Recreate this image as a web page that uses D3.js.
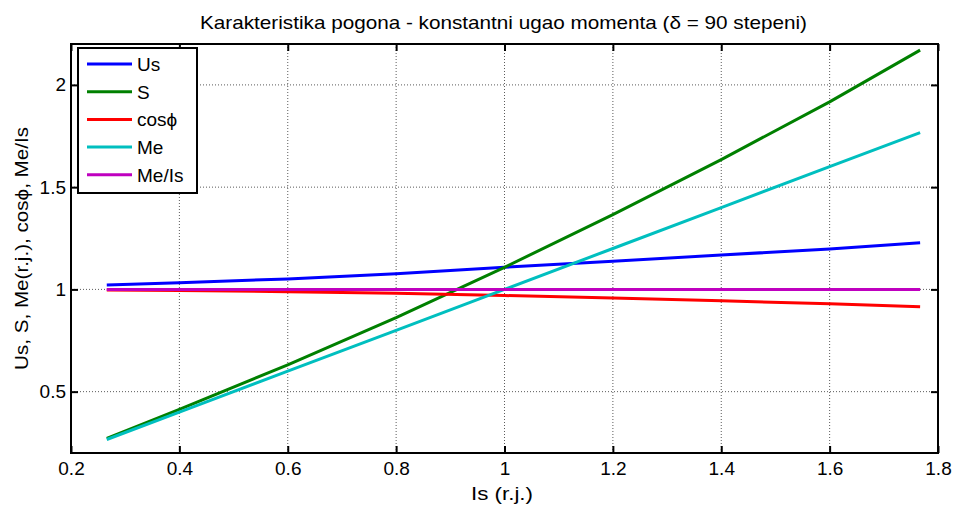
<!DOCTYPE html>
<html>
<head>
<meta charset="utf-8">
<script src="https://cdn.jsdelivr.net/npm/d3@7"></script>
<style>
  html, body { margin: 0; padding: 0; background: #fff; }
  svg { display: block; font-family: "Liberation Sans", Arial, Helvetica, sans-serif; }
</style>
</head>
<body>
<svg id="chart" width="955" height="506"></svg>
<script>
// Stator current in relative units
const currentIs = [0.266, 0.4, 0.6, 0.8, 1.0, 1.2, 1.4, 1.6, 1.767];
// Drive characteristics at each current value
const voltageUs = [1.022, 1.033, 1.051, 1.077, 1.108, 1.138, 1.168, 1.198, 1.228];
const apparentS = [0.272, 0.413, 0.631, 0.862, 1.108, 1.366, 1.635, 1.917, 2.170];
const powerFactor = [0.997, 0.995, 0.989, 0.981, 0.970, 0.958, 0.944, 0.930, 0.915];
const torqueMe = [0.266, 0.4, 0.6, 0.8, 1.0, 1.2, 1.4, 1.6, 1.767];
const torquePerAmp = [1, 1, 1, 1, 1, 1, 1, 1, 1];

const seriesNames = ["Us", "S", "cos\u03D5", "Me", "Me/Is"];
const seriesColors = ["#0000ff", "#008000", "#ff0000", "#00bfbf", "#bf00bf"];
const seriesValues = [voltageUs, apparentS, powerFactor, torqueMe, torquePerAmp];

const xTicks = [0.2, 0.4, 0.6, 0.8, 1, 1.2, 1.4, 1.6, 1.8];
const yTicks = [0.5, 1, 1.5, 2];

const titleText = "Karakteristika pogona - konstantni ugao momenta (\u03B4 = 90 stepeni)";
const xLabel = "Is (r.j.)";
const yLabel = "Us, S, Me(r.j.), cos\u03D5, Me/Is";

const svg = d3.select("#chart");
const plotLeft = 71, plotRight = 938, plotTop = 44, plotBottom = 453;

const x = d3.scaleLinear().domain([0.2, 1.8]).range([plotLeft, plotRight]);
const y = d3.scaleLinear().domain([0.2, 2.2]).range([plotBottom, plotTop]);

const fmt = d => String(+d.toFixed(1));

// Dotted grid
const grid = svg.append("g");
grid.selectAll("line.gx").data(xTicks.slice(1, -1)).join("line")
  .attr("x1", d => x(d)).attr("x2", d => x(d))
  .attr("y1", plotTop).attr("y2", plotBottom)
  .attr("stroke", "#333").attr("stroke-width", 1).attr("stroke-dasharray", "1,2").attr("opacity", 0.8);
grid.selectAll("line.gy").data(yTicks).join("line")
  .attr("y1", d => y(d)).attr("y2", d => y(d))
  .attr("x1", plotLeft).attr("x2", plotRight)
  .attr("stroke", "#333").attr("stroke-width", 1).attr("stroke-dasharray", "1,2").attr("opacity", 0.8);

// Data lines
const line = d3.line()
  .x((d, i) => x(currentIs[i]))
  .y(d => y(d));
svg.append("g").selectAll("path").data(seriesValues).join("path")
  .attr("d", d => line(d))
  .attr("fill", "none")
  .attr("stroke", (d, i) => seriesColors[i])
  .attr("stroke-width", 3)
  .attr("stroke-linejoin", "round");

// Axes with inward ticks on all four sides
const tickLen = 7;
const axFont = 19;
const bottomAxis = svg.append("g").attr("transform", `translate(0,${plotBottom})`)
  .call(d3.axisBottom(x).tickValues(xTicks).tickFormat(fmt).tickSizeInner(-tickLen).tickSizeOuter(0).tickPadding(9));
const topAxis = svg.append("g").attr("transform", `translate(0,${plotTop})`)
  .call(d3.axisTop(x).tickValues(xTicks).tickFormat("").tickSizeInner(-tickLen).tickSizeOuter(0));
const leftAxis = svg.append("g").attr("transform", `translate(${plotLeft},0)`)
  .call(d3.axisLeft(y).tickValues(yTicks).tickFormat(fmt).tickSizeInner(-tickLen).tickSizeOuter(0).tickPadding(5));
const rightAxis = svg.append("g").attr("transform", `translate(${plotRight},0)`)
  .call(d3.axisRight(y).tickValues(yTicks).tickFormat("").tickSizeInner(-tickLen).tickSizeOuter(0));

[bottomAxis, topAxis, leftAxis, rightAxis].forEach(g => {
  g.select(".domain").remove();
  g.selectAll(".tick line").attr("stroke", "#000").attr("stroke-width", 2);
  g.selectAll("text").attr("font-size", axFont).attr("fill", "#000").attr("font-family", null);
});

// Axes frame
svg.append("rect")
  .attr("x", plotLeft).attr("y", plotTop)
  .attr("width", plotRight - plotLeft).attr("height", plotBottom - plotTop)
  .attr("fill", "none").attr("stroke", "#000").attr("stroke-width", 2);

// Title and axis labels (slightly widened lettering)
svg.append("text").attr("x", 503.5).attr("y", 29)
  .attr("text-anchor", "middle").attr("font-size", 19)
  .attr("textLength", 607).attr("lengthAdjust", "spacingAndGlyphs").text(titleText);
svg.append("text").attr("x", 502).attr("y", 500)
  .attr("text-anchor", "middle").attr("font-size", 19)
  .attr("textLength", 62).attr("lengthAdjust", "spacingAndGlyphs").text(xLabel);
svg.append("text")
  .attr("transform", `translate(28,${(plotTop + plotBottom) / 2}) rotate(-90)`)
  .attr("text-anchor", "middle").attr("font-size", 19)
  .attr("textLength", 243).attr("lengthAdjust", "spacingAndGlyphs").text(yLabel);

// Legend
const lg = svg.append("g");
lg.append("rect").attr("x", 78).attr("y", 48).attr("width", 119).attr("height", 145)
  .attr("fill", "#fff").attr("stroke", "#000").attr("stroke-width", 2);
const rows = lg.selectAll("g.row").data(seriesNames).join("g")
  .attr("transform", (d, i) => `translate(0,${64 + i * 27.7})`);
rows.append("line").attr("x1", 87).attr("x2", 132).attr("y1", 0).attr("y2", 0)
  .attr("stroke", (d, i) => seriesColors[i]).attr("stroke-width", 3);
rows.append("text").attr("x", 137).attr("y", 0).attr("dy", "0.36em")
  .attr("font-size", 19).text(d => d);
</script>
</body>
</html>
